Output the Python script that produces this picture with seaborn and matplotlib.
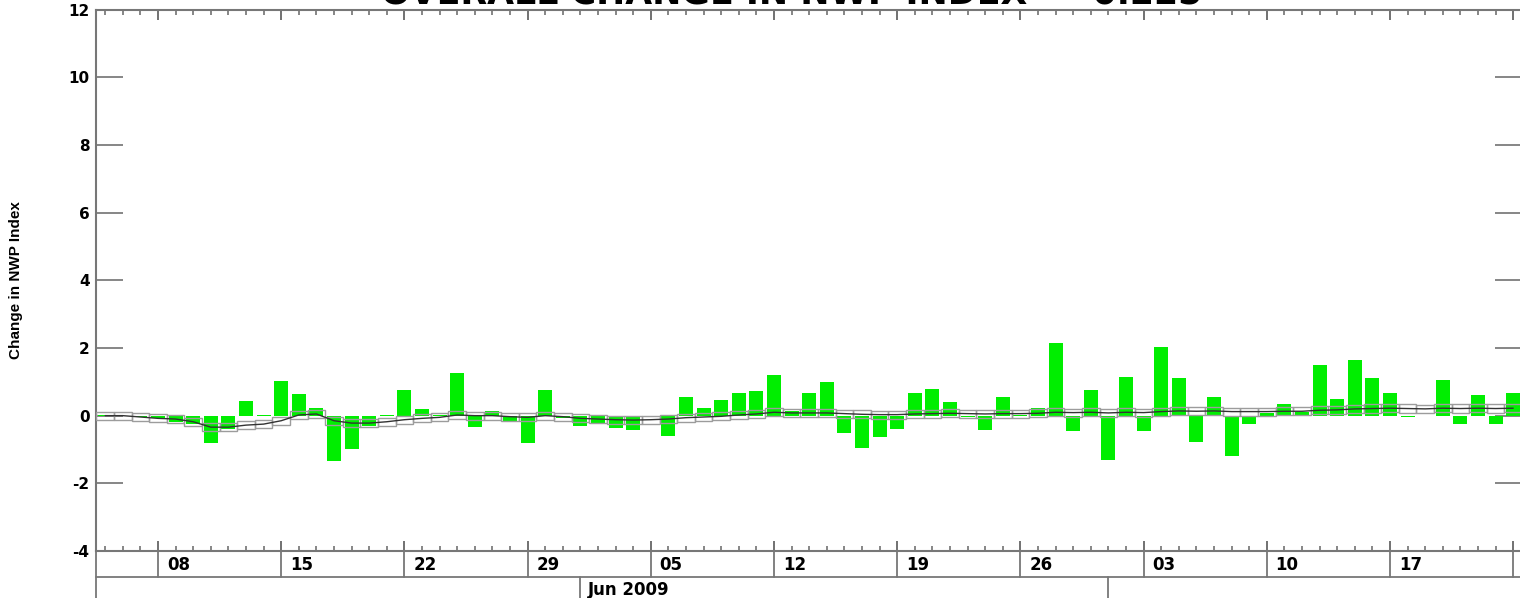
import numpy as np
import pandas as pd
import matplotlib
matplotlib.use("Agg")
import matplotlib.pyplot as plt
import matplotlib.transforms as mtransforms
import seaborn as sns

# Daily series, 5 May 2009 .. 24 Jul 2009
days = pd.date_range("2009-05-05", "2009-07-24", freq="D")

daily_change = [
    0.01, -0.02, -0.04, -0.06, -0.20, -0.25, -0.80, -0.40, 0.42, 0.02,
    1.02, 0.65, 0.24, -1.34, -0.99, -0.30, 0.02, 0.76, 0.19, 0.02,
    1.26, -0.33, 0.14, -0.20, -0.80, 0.77, -0.08, -0.30, -0.22, -0.36,
    -0.43, -0.03, -0.61, 0.55, 0.24, 0.45, 0.68, 0.72, 1.21, 0.14,
    0.66, 1.00, -0.51, -0.96, -0.62, -0.39, 0.66, 0.78, 0.40, -0.03,
    -0.41, 0.55, 0.03, 0.24, 2.15, -0.45, 0.76, -1.30, 1.14, -0.45,
    2.04, 1.10, -0.79, 0.54, -1.20, -0.26, 0.07, 0.35, 0.12, 1.50,
    0.49, 1.63, 1.10, 0.66, -0.05, -0.01, 1.04, -0.26, 0.62, -0.26,
    0.66,
]

running_mean = [
    0.00, 0.00, -0.04, -0.08, -0.10, -0.18, -0.34, -0.34, -0.28, -0.25,
    -0.15, 0.02, 0.05, -0.15, -0.22, -0.22, -0.18, -0.12, -0.08, -0.05,
    0.02, 0.00, 0.00, -0.03, -0.05, 0.00, -0.03, -0.08, -0.10, -0.12,
    -0.13, -0.12, -0.10, -0.06, -0.04, -0.02, 0.02, 0.05, 0.10, 0.08,
    0.08, 0.08, 0.06, 0.04, 0.03, 0.03, 0.05, 0.06, 0.07, 0.06,
    0.05, 0.06, 0.06, 0.07, 0.10, 0.09, 0.10, 0.08, 0.10, 0.09,
    0.12, 0.14, 0.13, 0.14, 0.12, 0.12, 0.12, 0.13, 0.13, 0.16,
    0.17, 0.20, 0.21, 0.22, 0.21, 0.20, 0.22, 0.21, 0.22, 0.21,
    0.22,
]
band_half = 0.12

week_ticks = ["2009-05-08", "2009-05-15", "2009-05-22", "2009-05-29",
              "2009-06-05", "2009-06-12", "2009-06-19", "2009-06-26",
              "2009-07-03", "2009-07-10", "2009-07-17", "2009-07-24"]
week_labels = ["08", "15", "22", "29", "05", "12", "19", "26", "03", "10", "17"]
month_starts = ["2009-06-01", "2009-07-01"]
month_labels = ["Jun 2009", ""]
y_ticks = [-4, -2, 0, 2, 4, 6, 8, 10, 12]
title_text = "OVERALL CHANGE IN NWP INDEX =  0.225"
y_label = "Change in NWP Index"

sns.set_style("white")
plt.rcParams["font.family"] = ["DejaVu Sans"]
plt.rcParams["axes.unicode_minus"] = False
plt.rcParams["text.color"] = "black"
plt.rcParams["axes.labelcolor"] = "black"

W, H = 1520, 598
fig = plt.figure(figsize=(W / 100, H / 100), dpi=100)
ax_left, ax_right, ax_top, ax_bottom = 96.4, 1522.0, 9.6, 551.0
ax = fig.add_axes([ax_left / W, (H - ax_bottom) / H,
                   (ax_right - ax_left) / W, (ax_bottom - ax_top) / H])

df = pd.DataFrame({"day": days.strftime("%Y-%m-%d"),
                   "change": daily_change,
                   "mean": running_mean})
pos = np.arange(len(df))

sns.barplot(data=df, x="day", y="change", color="#00ee00", saturation=1,
            width=0.8, linewidth=0, ax=ax, zorder=2)

# band around the running mean
mean_arr = np.asarray(running_mean)
ax.bar(pos, 2 * band_half, bottom=mean_arr - band_half, width=1.0,
       fill=False, edgecolor="#9c9c9c", linewidth=1.0, zorder=3)
sns.lineplot(x=pos, y=mean_arr, color="#333333", linewidth=1.0, ax=ax, zorder=4)

ax.set_xlim(-0.5, len(df) - 0.5)
ax.set_ylim(-4, 12)
ax.set_xlabel("")

# x ticks: daily minor, weekly major, top and bottom, pointing inward
major_pos = [days.get_loc(pd.Timestamp(d)) for d in week_ticks]
ax.set_xticks(major_pos)
ax.set_xticklabels([])
ax.set_xticks(pos, minor=True)
ax.tick_params(axis="x", which="major", direction="in", length=7.2, width=1.3,
               color="#666666", top=True, bottom=True, labelbottom=False)
ax.tick_params(axis="x", which="minor", direction="in", length=3.6, width=1.1,
               color="#666666", top=True, bottom=True)

ax.set_yticks(y_ticks)
ax.set_yticklabels([str(v) for v in y_ticks])
ax.tick_params(axis="y", which="major", direction="in", length=19.4, width=1.1,
               color="#666666", labelcolor="black", left=True, right=True,
               labelright=False, labelsize=11, pad=5)
for lab in ax.get_yticklabels():
    lab.set_fontweight("bold")

for sp in ax.spines.values():
    sp.set_color("#777777")
    sp.set_linewidth(1.5)

ax.set_ylabel(y_label, fontsize=11, fontweight="bold", color="black",
              family=["Liberation Sans", "DejaVu Sans"])
ax.yaxis.set_label_coords((23 - ax_left) / (ax_right - ax_left), 0.5)

# date rows below the axis
trans = mtransforms.blended_transform_factory(ax.transData, ax.transAxes)
ax_h = ax_bottom - ax_top
row1 = (ax_bottom - 577) / ax_h
row2 = (ax_bottom - 610) / ax_h
line_kw = dict(color="#777777", linewidth=1.3, transform=trans, clip_on=False)

ax.plot([-0.5, len(df) - 0.5], [row1, row1], **line_kw)
ax.plot([-0.5, -0.5], [0, row2], **line_kw)
for p in major_pos:
    ax.plot([p, p], [0, row1], **line_kw)
for p, lab in zip(major_pos, week_labels):
    ax.text(p + 0.5, (ax_bottom - 565) / ax_h, lab, transform=trans,
            ha="left", va="center", fontsize=12, fontweight="bold",
            color="black", clip_on=False)

month_pos = [days.get_loc(pd.Timestamp(d)) for d in month_starts]
for p, lab in zip(month_pos, month_labels):
    ax.plot([p, p], [row1, row2], **line_kw)
    if lab:
        ax.text(p + 0.45, (ax_bottom - 590) / ax_h, lab, transform=trans,
                ha="left", va="center", fontsize=12, fontweight="bold",
                color="black", clip_on=False)

fig.text(792 / W, 1 - 4 / H, title_text, ha="center", va="baseline",
         fontsize=25, fontweight="bold", color="black")

fig.savefig("out.png", dpi=100)
